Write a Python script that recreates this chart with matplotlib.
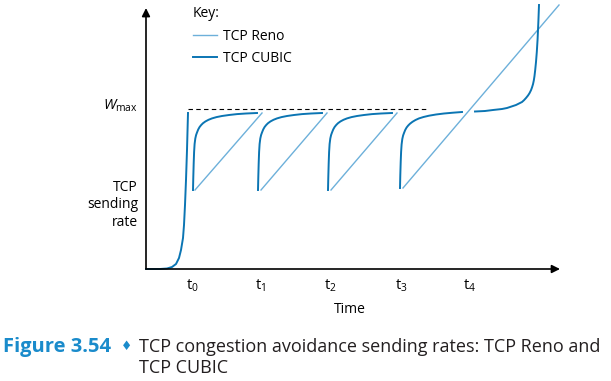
import matplotlib.pyplot as plt

plt.rcParams['font.family'] = ['Open Sans', 'DejaVu Sans']
plt.rcParams['mathtext.fontset'] = 'custom'
plt.rcParams['mathtext.rm'] = 'Open Sans'
plt.rcParams['mathtext.it'] = 'Open Sans:italic'

# values (time, rate), arbitrary units
slow_start_t = [0, 14, 21, 26, 30, 33, 35, 37, 38, 39, 40, 41, 42]
slow_start_w = [0, 0, 0.5, 2, 5, 11, 19, 31, 44, 64, 89, 119, 156]

cubic1_t = [47, 47.3, 47.7, 48.1, 48.6, 49.3, 50.1, 51, 52.2, 53.6, 55.2, 57, 59.5, 62.5, 66, 70.5, 76, 83, 91, 100, 111]
cubic1_w = [79, 92, 106, 117, 125, 130.5, 134, 136.5, 139.5, 142, 144, 145.8, 147.6, 149.2, 150.6, 151.9, 153, 154, 154.9, 155.5, 156]
cubic2_t = [112, 112.3, 112.7, 113.1, 113.6, 114.3, 115.1, 116, 117.2, 118.6, 120.2, 122, 124.5, 127.5, 131, 135.5, 141, 148, 156, 165, 176]
cubic2_w = [79, 92, 106, 117, 125, 130.5, 134, 136.5, 139.5, 142, 144, 145.8, 147.6, 149.2, 150.6, 151.9, 153, 154, 154.9, 155.5, 156]
cubic3_t = [182, 182.3, 182.7, 183.1, 183.6, 184.3, 185.1, 186, 187.2, 188.6, 190.2, 192, 194.5, 197.5, 201, 205.5, 211, 218, 226, 235, 246]
cubic3_w = [79, 92, 106, 117, 125, 130.5, 134, 136.5, 139.5, 142, 144, 145.8, 147.6, 149.2, 150.6, 151.9, 153, 154, 154.9, 155.5, 156]
# last cubic period, broken where the Reno line crosses it
cubic4a_t = [254, 254.3, 254.7, 255.1, 255.6, 256.3, 257.1, 258, 259.2, 260.6, 262.2, 264, 266.5, 269.5, 273, 277.5, 283, 290, 298, 307, 316]
cubic4a_w = [81, 94, 107, 117, 124.5, 130, 133.5, 136, 139, 141.5, 143.5, 145.3, 147.2, 149, 150.6, 152, 153.3, 154.5, 155.5, 156.3, 157]
cubic4b_t = [329, 339, 347, 356, 361, 364, 367, 370, 373, 376, 378, 380, 382, 383.5, 385, 386, 387, 387.8, 388.5, 389.2, 390, 390.8, 391.6, 392.4, 393]
cubic4b_w = [157.5, 158, 159, 160, 161, 162, 163, 164, 165.5, 167, 168.8, 171, 173.5, 175.8, 178.8, 181.5, 184.8, 188.5, 193, 199, 207, 217, 230, 248, 264]

reno_t = [[49, 116], [115, 181], [185, 251], [257, 413]]
reno_w = [[79, 156], [79, 156], [79, 156], [81, 264]]

wmax = 160
wmax_t = [42, 282]
tick_pos = [46, 114, 184, 255, 324]
tick_labels = ['$\\mathrm{t}_0$', '$\\mathrm{t}_1$', '$\\mathrm{t}_2$', '$\\mathrm{t}_3$', '$\\mathrm{t}_4$']

cubic_col = '#0b75b3'
reno_col = '#6db0da'
blue = '#1a8bcb'

fig = plt.figure(figsize=(6.11, 3.81), dpi=100)
ax = fig.add_axes([146/611, 112/381, 414/611, 266/381])
ax.set_xlim(0, 414)
ax.set_ylim(0, 266)

for i in range(len(reno_t)):
    ax.plot(reno_t[i], reno_w[i], color=reno_col, lw=1.0, label='TCP Reno' if i == 0 else None, clip_on=False)

ax.plot(slow_start_t, slow_start_w, color=cubic_col, lw=1.4, label='TCP CUBIC', clip_on=False)
for t, w in [(cubic1_t, cubic1_w), (cubic2_t, cubic2_w), (cubic3_t, cubic3_w),
             (cubic4a_t, cubic4a_w), (cubic4b_t, cubic4b_w)]:
    ax.plot(t, w, color=cubic_col, lw=1.4, clip_on=False, solid_joinstyle='round')

ax.plot(wmax_t, [wmax, wmax], color='black', lw=0.8, dashes=(4, 3))

# axes drawn as arrows
for s in ax.spines.values():
    s.set_visible(False)
ax.annotate('', xy=(1, 0), xytext=(0, 0), xycoords='axes fraction',
            arrowprops=dict(arrowstyle='-|>', color='black', lw=1.2, mutation_scale=12, shrinkA=0, shrinkB=0))
ax.annotate('', xy=(0, 0.981), xytext=(0, 0), xycoords='axes fraction',
            arrowprops=dict(arrowstyle='-|>', color='black', lw=1.2, mutation_scale=12, shrinkA=0, shrinkB=0))

ax.set_xticks(tick_pos, tick_labels, fontsize=10.5)
ax.set_yticks([])
ax.tick_params(axis='x', length=0, pad=6)
ax.set_xlabel('Time', fontsize=10, labelpad=6, x=204/414)

ax.text(-8, wmax + 3, '$\\mathit{W}_{\\mathrm{max}}$', fontsize=10.5, ha='right', va='center')
fig.text(138/611, 1 - 205/381, 'TCP\nsending\nrate', fontsize=10, ha='right', va='center', linespacing=1.25)

leg = ax.legend(title='Key:', loc='upper left', bbox_to_anchor=(193/611, 1 - 6/381),
                bbox_transform=fig.transFigure, frameon=False, fontsize=10, title_fontsize=10,
                alignment='left', handlelength=1.7, handletextpad=0.45, labelspacing=0.55,
                borderpad=0, borderaxespad=0)

# caption
fig.text(3/611, 1 - 347/381, 'Figure 3.54', fontsize=14.5, fontweight='bold', color=blue, va='center')
fig.text(121/611, 1 - 347/381, '\u2666', fontsize=9, color=blue, va='center', family='DejaVu Sans')
fig.text(139/611, 1 - 347/381, 'TCP congestion avoidance sending rates: TCP Reno and',
         fontsize=13, va='center', color='#231f20')
fig.text(139/611, 1 - 368/381, 'TCP CUBIC', fontsize=13, va='center', color='#231f20')

fig.savefig('out.png', dpi=100)
